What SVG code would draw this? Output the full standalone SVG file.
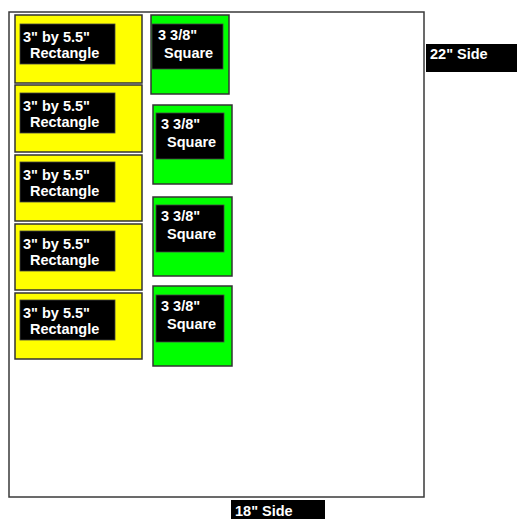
<svg xmlns="http://www.w3.org/2000/svg" width="517" height="519" viewBox="0 0 517 519">
<style>
.board{fill:#fff;stroke:#3a3a3a;stroke-width:1.5}
.rect{fill:#ffff00;stroke:#333;stroke-width:1.5}
.sq{fill:#00ff00;stroke:#333;stroke-width:1.5}
.lbl{fill:#000;stroke:#444;stroke-width:0.8}
.t{fill:#fff;font-family:"Liberation Sans",Arial,sans-serif;font-weight:bold;font-size:14.5px}
</style>
<rect width="517" height="519" fill="#fff"/>
<g id="board"><rect class="board" x="9" y="12" width="415" height="485"/></g>
<g id="rect1"><rect class="rect" x="15" y="15" width="127" height="68"/><rect class="lbl" x="20" y="24" width="95" height="40"/><text class="t" x="23" y="42">3" by 5.5"</text><text class="t" x="30" y="58">Rectangle</text></g>
<g id="rect2"><rect class="rect" x="15" y="85" width="127" height="67"/><rect class="lbl" x="20" y="93" width="95" height="40"/><text class="t" x="23" y="111">3" by 5.5"</text><text class="t" x="30" y="127">Rectangle</text></g>
<g id="rect3"><rect class="rect" x="15" y="155" width="127" height="66"/><rect class="lbl" x="20" y="162" width="95" height="40"/><text class="t" x="23" y="180">3" by 5.5"</text><text class="t" x="30" y="196">Rectangle</text></g>
<g id="rect4"><rect class="rect" x="15" y="224" width="127" height="66"/><rect class="lbl" x="20" y="231" width="95" height="40"/><text class="t" x="23" y="249">3" by 5.5"</text><text class="t" x="30" y="265">Rectangle</text></g>
<g id="rect5"><rect class="rect" x="15" y="293" width="127" height="66"/><rect class="lbl" x="20" y="300" width="95" height="40"/><text class="t" x="23" y="318">3" by 5.5"</text><text class="t" x="30" y="334">Rectangle</text></g>
<g id="sq1"><rect class="sq" x="151" y="15" width="78" height="79"/><rect class="lbl" x="152" y="24" width="71" height="45"/><text class="t" x="158" y="40">3 3/8"</text><text class="t" x="164" y="58">Square</text></g>
<g id="sq2"><rect class="sq" x="153" y="105" width="79" height="79"/><rect class="lbl" x="156" y="113" width="68" height="46"/><text class="t" x="161" y="129">3 3/8"</text><text class="t" x="167" y="147">Square</text></g>
<g id="sq3"><rect class="sq" x="153" y="197" width="79" height="79"/><rect class="lbl" x="156" y="205" width="68" height="47"/><text class="t" x="161" y="221">3 3/8"</text><text class="t" x="167" y="239">Square</text></g>
<g id="sq4"><rect class="sq" x="153" y="286" width="79" height="80"/><rect class="lbl" x="156" y="295" width="68" height="47"/><text class="t" x="161" y="311">3 3/8"</text><text class="t" x="167" y="329">Square</text></g>
<g id="side22"><rect x="426" y="44" width="91" height="28" fill="#000"/><text class="t" x="430" y="59">22" Side</text></g>
<g id="side18"><rect x="231" y="500" width="94" height="19" fill="#000"/><text class="t" x="235" y="516">18" Side</text></g>
<g id="connectors"></g>
</svg>
